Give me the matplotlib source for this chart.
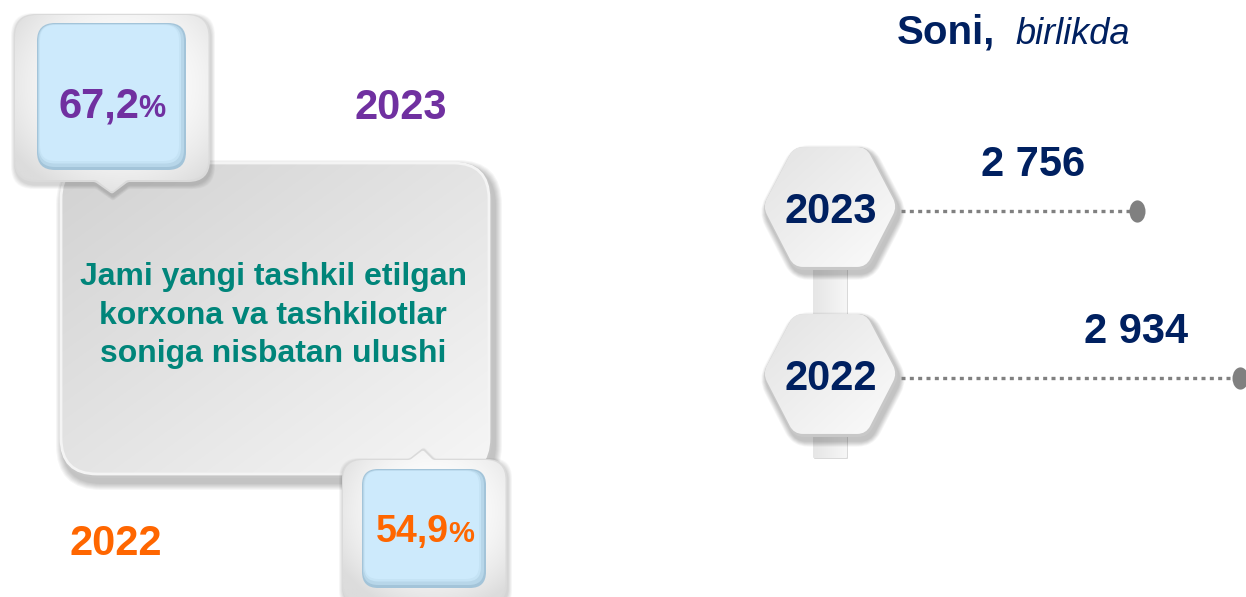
import numpy as np
import matplotlib
matplotlib.use("Agg")
import matplotlib.pyplot as plt
import matplotlib.colors as mcolors
from matplotlib.patches import PathPatch
from matplotlib.path import Path
from matplotlib.transforms import Affine2D

# ---------------- data ----------------
years = ["2022", "2023"]
counts = [2934, 2756]          # Soni, birlikda
shares = [54.9, 67.2]          # ulushi, %
title_bold = "Soni,"
title_italic = "birlikda"
box_lines = ["Jami yangi tashkil etilgan",
             "korxona va tashkilotlar",
             "soniga nisbatan ulushi"]

# ---------------- setup ----------------
W, H = 1246, 597
fig = plt.figure(figsize=(W / 100, H / 100), dpi=100)
fig.patch.set_facecolor("white")
ax = fig.add_axes([0, 0, 1, 1])
ax.axis("off")

FONT = "Liberation Sans"
PURPLE = "#7030a0"
ORANGE = "#ff6600"
TEAL = "#00857a"
NAVY = "#002060"
GREY = "#808080"


def rgb(c):
    return np.array(mcolors.to_rgb(c))


def rounded_poly(pts, radii):
    pts = np.asarray(pts, float)
    n = len(pts)
    if np.isscalar(radii):
        radii = [radii] * n
    verts, codes = [], []
    for i in range(n):
        p0, p1, p2 = pts[i - 1], pts[i], pts[(i + 1) % n]
        r = radii[i]
        v1 = p0 - p1
        v1 /= np.linalg.norm(v1)
        v2 = p2 - p1
        v2 /= np.linalg.norm(v2)
        a = p1 + v1 * r
        b = p1 + v2 * r
        verts.append(a)
        codes.append(Path.MOVETO if i == 0 else Path.LINETO)
        verts += [p1, b]
        codes += [Path.CURVE3, Path.CURVE3]
    verts.append(verts[0])
    codes.append(Path.CLOSEPOLY)
    return Path(verts, codes)


def rrect_pts(x, y, w, h):
    return [(x, y), (x + w, y), (x + w, y + h), (x, y + h)]


def add_path(path, fc, ec="none", lw=0, z=1, alpha=1.0):
    p = PathPatch(path, facecolor=fc, edgecolor=ec, lw=lw, zorder=z, alpha=alpha)
    ax.add_patch(p)
    return p


def gradient(path, c0, c1, mode, z):
    ext = path.get_extents()
    x0, y0, x1, y1 = ext.x0, ext.y0, ext.x1, ext.y1
    nx, ny = int(x1 - x0) + 2, int(y1 - y0) + 2
    X, Y = np.meshgrid(np.linspace(0, 1, nx), np.linspace(0, 1, ny))
    if mode == "diag":
        t = (X + Y) / 2
    elif mode == "radial":
        t = np.clip(np.sqrt((X - 0.55) ** 2 + (Y - 0.4) ** 2) / 0.68, 0, 1) ** 2.2
    elif mode == "horiz":
        t = X
    else:
        t = Y
    img = rgb(c0)[None, None, :] * (1 - t[..., None]) + rgb(c1)[None, None, :] * t[..., None]
    clipper = add_path(path, "none", z=z)
    im = ax.imshow(img, extent=(x0, x1, y1, y0), origin="upper", aspect="auto",
                   zorder=z, interpolation="bilinear")
    im.set_clip_path(clipper)
    return im


def soft_shadow(make_path, dx, dy, spread, z, color="#000000", layers=7, alpha=0.035):
    for i in range(layers):
        g = spread * (1 - i / layers)
        add_path(make_path(g, dx, dy), color, z=z, alpha=alpha)


# ---------------- left: big grey box ----------------
BX, BY, BW, BH, BR = 60, 162, 432, 316, 38


def big_box(g=0, dx=0, dy=0):
    return rounded_poly(rrect_pts(BX - g + dx, BY - g + dy, BW + 2 * g, BH + 2 * g), BR + g)


soft_shadow(big_box, 3, 5, 7, z=1)
add_path(big_box(), "#c6c6c6", z=2)
inner = rounded_poly(rrect_pts(BX + 1, BY + 1, BW - 4, BH - 5), BR - 2)
gradient(inner, "#d2d2d2", "#f6f6f6", "diag", z=3)
add_path(inner, "none", ec="#f4f4f4", lw=2.0, z=4)

for k, line in enumerate(box_lines):
    ax.text(273, 285 + k * 38.5, line, ha="center", va="baseline", fontsize=23,
            fontweight="bold", color=TEAL, family=FONT, zorder=10)


# ---------------- callouts ----------------
def callout(x, y, w, h, notch, up=False):
    bx0, bx1, tip = notch
    if not up:
        pts = [(x, y), (x + w, y), (x + w, y + h), (bx1, y + h), (tip[0], tip[1]),
               (bx0, y + h), (x, y + h)]
        rad = [22, 22, 22, 2, 2, 2, 22]
    else:
        pts = [(x, y), (bx0, y), (tip[0], tip[1]), (bx1, y), (x + w, y),
               (x + w, y + h), (x, y + h)]
        rad = [20, 2, 2, 2, 20, 20, 20]
    return rounded_poly(pts, rad)


def draw_callout(x, y, w, h, notch, up, ix, iy, iw, ih, ir):
    def shp(g=0, dx=0, dy=0):
        return callout(x - g + dx, y - g + dy, w + 2 * g, h + 2 * g,
                       (notch[0] + dx, notch[1] + dx,
                        (notch[2][0] + dx, notch[2][1] + dy + (g if not up else -g))), up)
    soft_shadow(shp, 1, 3, 4, z=5, alpha=0.025)
    outer = shp()
    add_path(outer, "#dadada", z=6)
    o2 = callout(x + 1, y + 1, w - 2.5, h - 3,
                 (notch[0] + 1, notch[1] - 1, (notch[2][0], notch[2][1] + (-2 if not up else 2))), up)
    gradient(o2, "#ffffff", "#dcdcdc", "radial", z=7)
    # inner blue pane with inset shadow
    add_path(rounded_poly(rrect_pts(ix, iy, iw, ih), ir), "#a3c4d9", z=8)
    add_path(rounded_poly(rrect_pts(ix + 1, iy + 1, iw - 3, ih - 4), ir - 1), "#b7d6e9", z=9)
    add_path(rounded_poly(rrect_pts(ix + 2, iy + 1.5, iw - 7, ih - 8), ir - 2), "#c5e3f5", z=9)
    add_path(rounded_poly(rrect_pts(ix + 3, iy + 2, iw - 10, ih - 11), ir - 3), "#cdeafc", z=9)


draw_callout(14, 14, 196, 168, (95, 128, (112, 194)), False, 37, 23, 149, 147, 18)
draw_callout(342, 459, 165, 145, (409, 434, (423, 448)), True, 362, 469, 124, 119, 16)


def pct_label(x_split, base, val, color, big, small):
    s = f"{val:.1f}".replace(".", ",")
    ax.text(x_split, base, s, ha="right", va="baseline", fontsize=big, fontweight="bold",
            color=color, family=FONT, zorder=12)
    ax.text(x_split - 1, base, "%", ha="left", va="baseline", fontsize=small,
            fontweight="bold", color=color, family=FONT, zorder=12)


pct_label(139, 117, shares[1], PURPLE, 30, 22)
pct_label(449, 542, shares[0], ORANGE, 27, 21)

ax.text(401, 119, years[1], ha="center", va="baseline", fontsize=30, fontweight="bold",
        color=PURPLE, family=FONT, zorder=12)
ax.text(116, 555, years[0], ha="center", va="baseline", fontsize=30, fontweight="bold",
        color=ORANGE, family=FONT, zorder=12)

# ---------------- right: title ----------------
ax.text(897, 44, title_bold, ha="left", va="baseline", fontsize=29, fontweight="bold",
        color=NAVY, family=FONT, zorder=12)
ax.text(1015, 44, title_italic, ha="left", va="baseline", fontsize=26, style="italic",
        color=NAVY, family=FONT, zorder=12)

# ---------------- right: lollipop chart ----------------
CAT_Y0, CAT_DY = 378, 167          # pixel row of first category, spacing
PX_PER_UNIT, PX_OFFSET = 0.5787, -458
LINE_START_PX = 901


def cat_px(i):
    return CAT_Y0 - CAT_DY * i


# connector bar behind hexagons
bar = rounded_poly(rrect_pts(813, 262, 34, 196), 1)
add_path(rounded_poly(rrect_pts(814, 263, 34, 196), 1), "#d9d9d9", z=2)
gradient(bar, "#e6e6e6", "#f6f6f6", "horiz", z=3)

HEX = [(-69, 0), (-37, -61), (37, -61), (69, 0), (37, 62), (-37, 62)]
for i, yr in enumerate(years):
    cx, cy = 831, cat_px(i) - 3

    def hx(g=0, dx=0, dy=0, cx=cx, cy=cy):
        s = 1 + g / 65
        return rounded_poly([(cx + dx + px * s, cy + dy + py * s) for px, py in HEX], 10 + g)

    soft_shadow(hx, 2, 4, 6, z=4, alpha=0.035)
    add_path(hx(), "#c8c8c8", z=5)
    h_in = rounded_poly([(cx - 1 + px * 0.975, cy - 1.5 + py * 0.975) for px, py in HEX], 9)
    gradient(h_in, "#e3e3e3", "#fbfbfb", "diag", z=6)
    ax.text(cx, cy + 15, yr, ha="center", va="baseline", fontsize=30, fontweight="bold",
            color=NAVY, family=FONT, zorder=12)

ax.set_xlim(0, W)
ax.set_ylim(H, 0)

ax2 = fig.add_axes([0, 0, 1, 1], facecolor="none")
ax2.axis("off")
ax2.set_xlim((0 - PX_OFFSET) / PX_PER_UNIT, (W - PX_OFFSET) / PX_PER_UNIT)
ax2.set_ylim((CAT_Y0 - H) / CAT_DY, CAT_Y0 / CAT_DY)
ax2.set_zorder(5)

ypos = np.arange(len(years))
x_start = (LINE_START_PX - PX_OFFSET) / PX_PER_UNIT
for y, v in zip(ypos, counts):
    ax2.plot([x_start, v], [y, y], color=GREY, lw=2.4, linestyle=(0, (1.2, 1.3)),
             dash_capstyle="butt", zorder=3)
ell = Path.unit_circle().transformed(Affine2D().scale(0.72, 1.0))
ax2.plot(counts, ypos, linestyle="none", marker=ell, markersize=16, color=GREY,
         markeredgewidth=0, zorder=4)
for y, v in zip(ypos, counts):
    ax2.annotate(f"{v:,}".replace(",", " "), (v, y), xytext=(-104, 35),
                 textcoords="offset pixels", ha="center", va="baseline", fontsize=30,
                 fontweight="bold", color=NAVY, family=FONT, zorder=5)

fig.savefig("out.png", dpi=100, facecolor="white")
